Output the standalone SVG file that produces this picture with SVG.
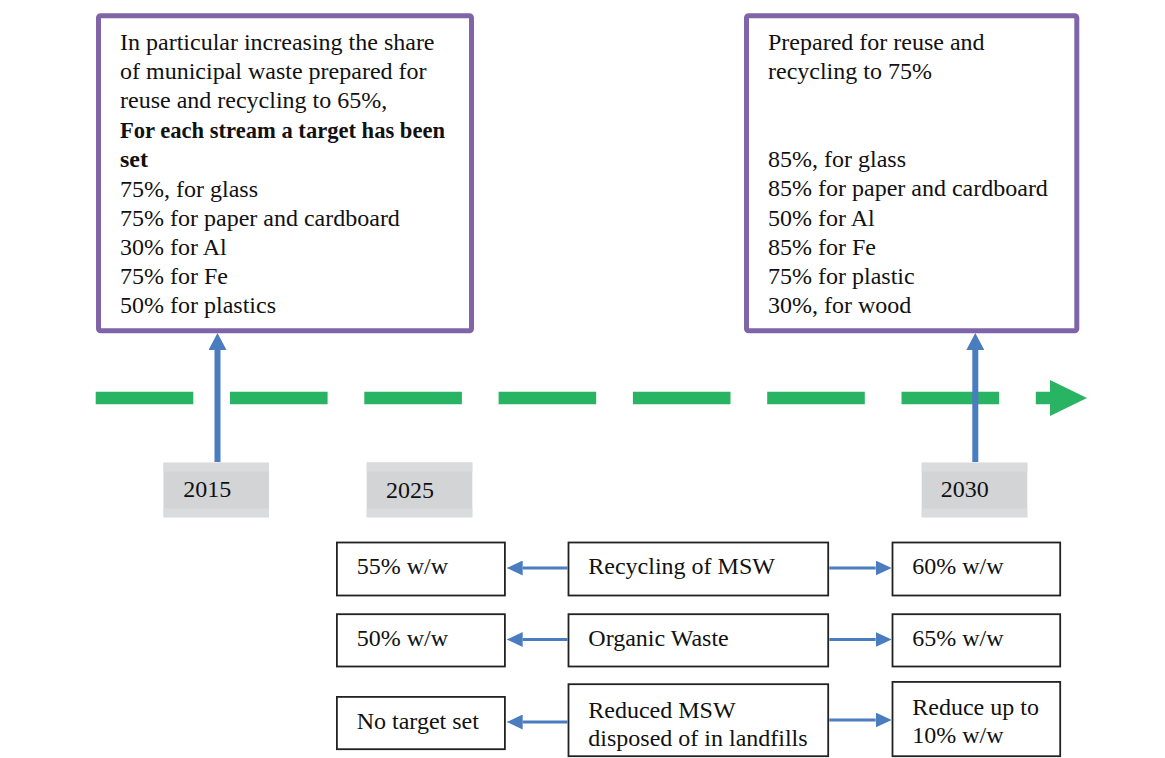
<svg xmlns="http://www.w3.org/2000/svg" width="1165" height="758" viewBox="0 0 1165 758">
<style>
text{font-family:"Liberation Serif","Times New Roman",serif;font-size:24px;fill:#111}
.b{font-weight:bold}
.pbox{fill:#fff;stroke:#7F65A8;stroke-width:5}
.year{fill:#D3D4D6}
.band{fill:#DADBDC}
.tbox{fill:#fff;stroke:#222;stroke-width:1.8}
.blue{stroke:#4A7DC0;fill:none}
</style>
<defs>
<marker id="upHead" markerUnits="userSpaceOnUse" viewBox="0 0 17 18" refX="0" refY="9" markerWidth="17" markerHeight="18" orient="auto">
<path d="M0,0 L17,9 L0,18 Z" fill="#4A7DC0"/>
</marker>
<marker id="smallHead" markerUnits="userSpaceOnUse" viewBox="0 0 16 15" refX="0" refY="7.5" markerWidth="16" markerHeight="15" orient="auto">
<path d="M0,0 L16,7.5 L0,15 Z" fill="#4A7DC0"/>
</marker>
<marker id="greenHead" markerUnits="userSpaceOnUse" viewBox="0 0 37 36" refX="0" refY="18" markerWidth="37" markerHeight="36" orient="auto">
<path d="M0,0 L37,18 L0,36 Z" fill="#29B463"/>
</marker>
</defs>
<rect width="1165" height="758" fill="#fff"/>

<g id="timeline">
<line x1="95.7" y1="398" x2="1050" y2="398" stroke="#29B463" stroke-width="12.6" stroke-dasharray="97.6 36.7" marker-end="url(#greenHead)"/>
</g>

<g id="box2015-targets">
<rect class="pbox" x="98.5" y="15.8" width="373" height="315" rx="2"/>
<text x="120" y="50">In particular increasing the share</text>
<text x="120" y="79.2">of municipal waste prepared for</text>
<text x="120" y="108.4">reuse and recycling to 65%,</text>
<text class="b" x="120" y="137.6" textLength="325" lengthAdjust="spacingAndGlyphs">For each stream a target has been</text>
<text class="b" x="120" y="166.8">set</text>
<text x="120" y="196.5">75%, for glass</text>
<text x="120" y="225.7">75% for paper and cardboard</text>
<text x="120" y="254.9">30% for Al</text>
<text x="120" y="284.1">75% for Fe</text>
<text x="120" y="313.3">50% for plastics</text>
</g>

<g id="box2030-targets">
<rect class="pbox" x="746.5" y="15.8" width="330.3" height="315" rx="2"/>
<text x="768" y="50">Prepared for reuse and</text>
<text x="768" y="79.3">recycling to 75%</text>
<text x="768" y="166.7">85%, for glass</text>
<text x="768" y="196.2">85% for paper and cardboard</text>
<text x="768" y="225.7">50% for Al</text>
<text x="768" y="255">85% for Fe</text>
<text x="768" y="284.2">75% for plastic</text>
<text x="768" y="313.3">30%, for wood</text>
</g>

<g id="year2015">
<rect class="year" x="163.5" y="462.7" width="105.5" height="54.6"/>
<rect class="band" x="163.5" y="462.7" width="105.5" height="9"/>
<rect class="band" x="163.5" y="508.5" width="105.5" height="8.8"/>
<text x="183.3" y="497">2015</text>
</g>
<g id="year2025">
<rect class="year" x="366.7" y="462.5" width="105.6" height="54.8"/>
<rect class="band" x="366.7" y="462.5" width="105.6" height="9"/>
<rect class="band" x="366.7" y="508.5" width="105.6" height="8.8"/>
<text x="386" y="497.5">2025</text>
</g>
<g id="year2030">
<rect class="year" x="921.7" y="462.7" width="105.6" height="54.6"/>
<rect class="band" x="921.7" y="462.7" width="105.6" height="9"/>
<rect class="band" x="921.7" y="508.5" width="105.6" height="8.8"/>
<text x="940.7" y="497">2030</text>
</g>

<g id="row1-left"><rect class="tbox" x="336.9" y="542.5" width="168" height="53"/><text x="356.7" y="574.3">55% w/w</text></g>
<g id="row1-mid"><rect class="tbox" x="568.5" y="542.5" width="259.7" height="53"/><text x="588.3" y="574.3">Recycling of MSW</text></g>
<g id="row1-right"><rect class="tbox" x="892.5" y="542.5" width="167.7" height="53"/><text x="912.3" y="574.3">60% w/w</text></g>

<g id="row2-left"><rect class="tbox" x="336.9" y="614.2" width="168" height="52.3"/><text x="356.7" y="646">50% w/w</text></g>
<g id="row2-mid"><rect class="tbox" x="568.5" y="614.2" width="259.7" height="52.3"/><text x="588.3" y="646">Organic Waste</text></g>
<g id="row2-right"><rect class="tbox" x="892.5" y="614.2" width="167.7" height="52.3"/><text x="912.3" y="646">65% w/w</text></g>

<g id="row3-left"><rect class="tbox" x="336.9" y="696.9" width="168" height="52.3"/><text x="356.7" y="729">No target set</text></g>
<g id="row3-mid"><rect class="tbox" x="568.5" y="684.2" width="259.7" height="72"/><text x="588.3" y="717.7">Reduced MSW</text><text x="588.3" y="745.7">disposed of in landfills</text></g>
<g id="row3-right"><rect class="tbox" x="892.5" y="681.9" width="167.7" height="74.3"/><text x="912.3" y="715">Reduce up to</text><text x="912.3" y="743.3">10% w/w</text></g>

<g id="connectors">
<line class="blue" x1="217.5" y1="462" x2="217.5" y2="350" stroke-width="6" marker-end="url(#upHead)"/>
<line class="blue" x1="975.3" y1="462" x2="975.3" y2="350" stroke-width="6" marker-end="url(#upHead)"/>
<line class="blue" x1="567.7" y1="568" x2="522.7" y2="568" stroke-width="3" marker-end="url(#smallHead)"/>
<line class="blue" x1="567.7" y1="639.5" x2="522.7" y2="639.5" stroke-width="3" marker-end="url(#smallHead)"/>
<line class="blue" x1="567.7" y1="722" x2="522.7" y2="722" stroke-width="3" marker-end="url(#smallHead)"/>
<line class="blue" x1="829.3" y1="568" x2="875.7" y2="568" stroke-width="3" marker-end="url(#smallHead)"/>
<line class="blue" x1="829.3" y1="639.5" x2="875.7" y2="639.5" stroke-width="3" marker-end="url(#smallHead)"/>
<line class="blue" x1="829.3" y1="720" x2="875.7" y2="720" stroke-width="3" marker-end="url(#smallHead)"/>
</g>
</svg>
